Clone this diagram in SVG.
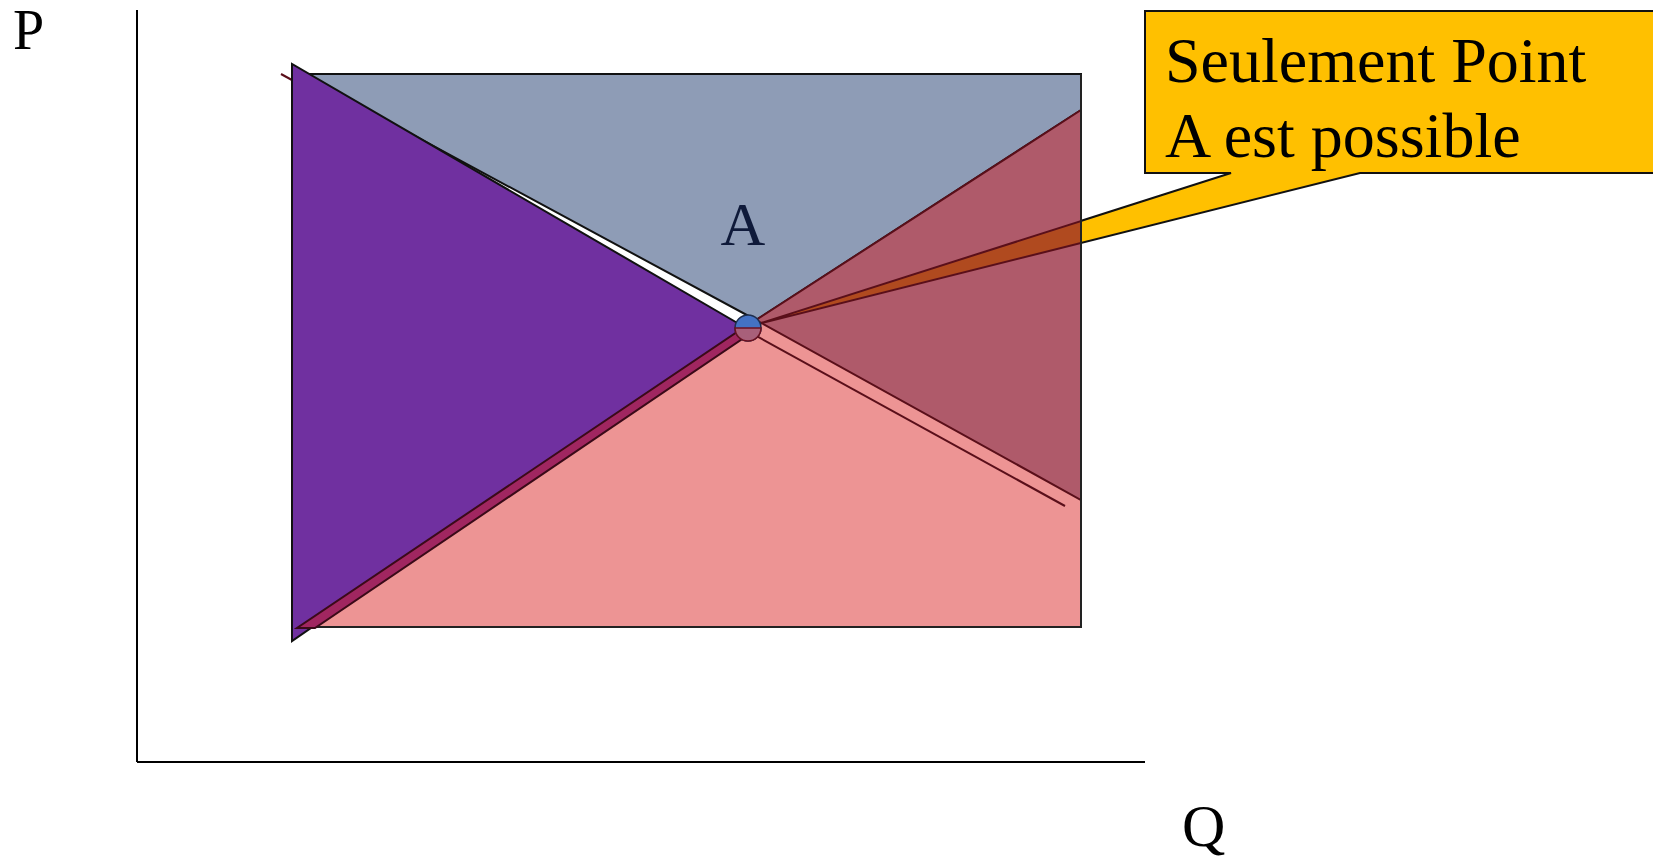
<svg xmlns="http://www.w3.org/2000/svg" width="1653" height="865" viewBox="0 0 1653 865">
<style>
.t{font-family:"Liberation Serif","Times New Roman",serif;fill:#000}
.edge{stroke:#111;stroke-width:2;stroke-linejoin:miter}
.red{stroke:#5A0F1A;stroke-width:2}
</style>
<rect width="1653" height="865" fill="#fff"/>
<g id="axes">
<line x1="137" y1="10" x2="137" y2="762" stroke="#000" stroke-width="2"/>
<line x1="137" y1="762" x2="1145" y2="762" stroke="#000" stroke-width="2"/>
<text class="t" x="13" y="49" font-size="56">P</text>
<text class="t" x="1182" y="846" font-size="60">Q</text>
</g>
<g id="pink-region">
<rect x="300" y="74" width="781" height="553" fill="#ED9494" stroke="#222" stroke-width="2"/>
<polygon points="292,64 300,74 762,318 750,334" fill="#fff"/>
</g>
<g id="connectors">
<line id="demand" x1="281" y1="74" x2="1065" y2="506" class="red"/>
</g>
<g id="callout">
<path d="M1145,11 H1660 V173 H1360 L758,324 L1231,173 H1145 Z" fill="#FFC000" class="edge"/>
<text class="t" x="1165" y="82" font-size="64">Seulement Point</text>
<text class="t" x="1165" y="157" font-size="64">A est possible</text>
</g>
<g id="blue-region">
<polygon points="300,74 1081,74 1081,110 756,320" fill="#8E9CB6" class="edge"/>
</g>
<g id="mauve-region">
<polygon points="1081,110 1081,500 756,320" fill="#AF5A6A" class="red"/>
<polygon points="758,324 1081,221 1081,243" fill="#B04A1F" class="red"/>
</g>
<g id="purple-region">
<polygon points="292,64 292,641 746,328" fill="#7030A0" class="edge"/>
</g>
<g id="crimson-strip">
<polygon points="297,628 315,628 754,331 746,326" fill="#A02660" stroke="#3A0A18" stroke-width="2"/>
</g>
<g id="point-A">
<circle cx="748" cy="328" r="13" fill="#4472C4" stroke="#1F2F4F" stroke-width="1.5"/>
<path d="M735,328 A13,13 0 0 0 761,328 Z" fill="#A8607A" stroke="#6B1020" stroke-width="1.5"/>
<text x="743" y="245" font-size="62" text-anchor="middle" font-family="Liberation Serif, Times New Roman, serif" fill="#0F1A3A">A</text>
</g>
<line x1="1081" y1="74" x2="1081" y2="627" stroke="#222" stroke-width="2"/>
</svg>
